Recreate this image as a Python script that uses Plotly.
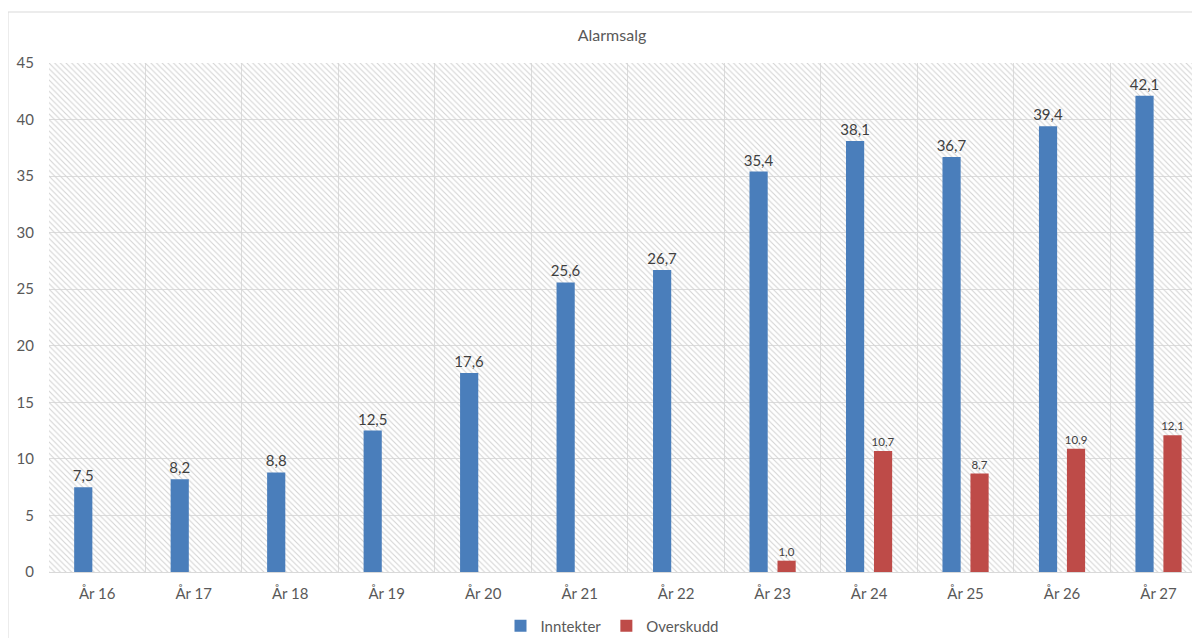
import plotly.graph_objects as go

categories = ["År 16", "År 17", "År 18", "År 19", "År 20", "År 21",
              "År 22", "År 23", "År 24", "År 25", "År 26", "År 27"]
inntekter = [7.5, 8.2, 8.8, 12.5, 17.6, 25.6, 26.7, 35.4, 38.1, 36.7, 39.4, 42.1]
overskudd = [None, None, None, None, None, None, None, 1.0, 10.7, 8.7, 10.9, 12.1]
y_ticks = [0, 5, 10, 15, 20, 25, 30, 35, 40, 45]

pos = list(range(len(categories)))
FONT = "Lato, 'Open Sans', sans-serif"
XR = [-0.5, 11.43]
YR = [0, 45]
W, H = 1192, 630          # page body has an 8px margin
L, T, B = 41, 55, 66
PW, PH = W - L, H - T - B

fig = go.Figure()

# hatched plot-area background (main axes)
fig.add_trace(go.Bar(
    x=[5.5], y=[45], width=[12], base=0,
    marker=dict(color="rgba(0,0,0,0)", line=dict(width=0),
                pattern=dict(shape="\\", fgcolor="#d4d4d4", bgcolor="rgba(0,0,0,0)",
                             size=4, solidity=0.28, fillmode="replace")),
    showlegend=False, hoverinfo="skip", xaxis="x", yaxis="y",
))

fig.add_trace(go.Bar(
    name="Inntekter", x=pos, y=inntekter,
    marker=dict(color="#4A7EBB", line=dict(width=0)),
    text=[f"{v:.1f}".replace(".", ",") for v in inntekter],
    textposition="outside", cliponaxis=False, constraintext="none",
    textfont=dict(size=15, color="#404040", family=FONT),
    xaxis="x2", yaxis="y2",
))
fig.add_trace(go.Bar(
    name="Overskudd", x=pos, y=overskudd,
    marker=dict(color="#BE4B48", line=dict(width=0)),
    text=[("" if v is None else f"{v:.1f}".replace(".", ",")) for v in overskudd],
    textposition="outside", cliponaxis=False, constraintext="none",
    textfont=dict(size=11.5, color="#404040", family=FONT),
    xaxis="x2", yaxis="y2",
))

fig.update_layout(
    width=W, height=H,
    margin=dict(l=L, r=0, t=T, b=B, autoexpand=False),
    paper_bgcolor="white", plot_bgcolor="white",
    font=dict(family=FONT, color="#595959", size=15),
    barmode="group", bargap=0.42, bargroupgap=0.35,
    title=dict(text="Alarmsalg", x=604 / W, xref="container", xanchor="center",
               y=1 - 27 / H, yref="container", yanchor="middle",
               font=dict(size=16, color="#595959", family=FONT)),
    xaxis=dict(range=XR, showticklabels=False, showgrid=False, zeroline=False,
               tickmode="array", tickvals=pos,
               minor=dict(tick0=-0.5, dtick=1, showgrid=True, gridcolor="#dcdcdc", gridwidth=1)),
    yaxis=dict(range=YR, showticklabels=False, tickvals=y_ticks, showgrid=True,
               gridcolor="#dcdcdc", gridwidth=1, zeroline=False),
    xaxis2=dict(overlaying="x", range=XR, tickmode="array", tickvals=pos, ticktext=categories,
                showgrid=False, zeroline=False, ticks="", ticklabelstandoff=8,
                tickfont=dict(size=15, color="#595959"), showline=True,
                linecolor="#d9d9d9", linewidth=1, anchor="y2"),
    yaxis2=dict(overlaying="y", range=YR, tickvals=y_ticks, showgrid=False, zeroline=False,
                ticks="", ticklabelstandoff=14, tickfont=dict(size=15, color="#595959"),
                anchor="x2"),
    legend=dict(orientation="h", x=(604 - L) / PW, xanchor="center",
                y=-(618 - (T + PH)) / PH, yanchor="middle",
                font=dict(size=15, color="#595959"), itemwidth=30, traceorder="normal"),
    shapes=[dict(type="rect", xref="paper", yref="paper",
                 x0=(0 - L) / PW, x1=1.05, y0=-0.3, y1=(T + PH - 4) / PH,
                 line=dict(color="#d9d9d9", width=1), fillcolor="rgba(0,0,0,0)", layer="below")],
)

fig.write_html("out.html")
